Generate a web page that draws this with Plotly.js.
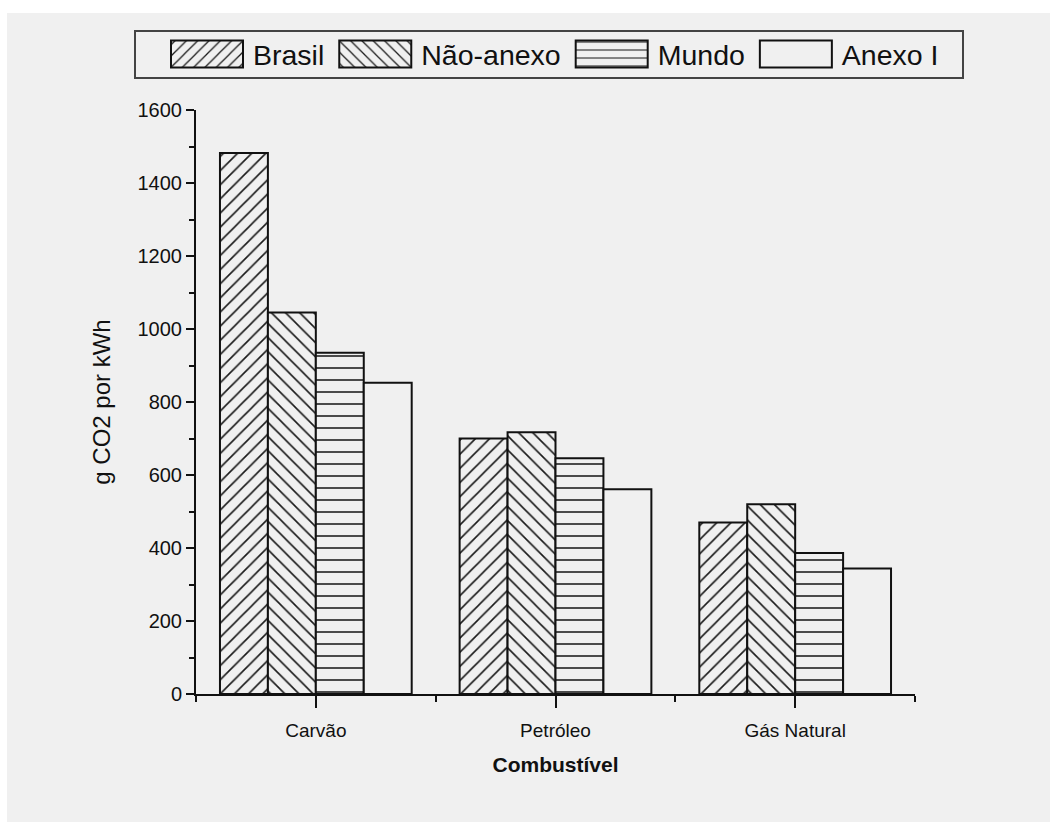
<!DOCTYPE html>
<html><head><meta charset="utf-8">
<script src="https://cdn.plot.ly/plotly-3.0.1.min.js"></script>
<style>html,body{margin:0;padding:0;background:#fff}#chart{width:1050px;height:822px}</style>
</head><body><div id="chart"></div>
<script>
const categories = ['Carvão', 'Petróleo', 'Gás Natural'];
const seriesNames = ['Brasil', 'Não-anexo', 'Mundo', 'Anexo I'];
const brasil = [1482, 700, 470];
const naoAnexo = [1045, 717, 520];
const mundo = [935, 646, 386];
const anexoI = [853, 561, 344];
const yTickVals = [0, 200, 400, 600, 800, 1000, 1200, 1400, 1600];
const xTitle = 'Combustível';
const yTitle = 'g CO2 por kWh';

const seriesValues = [brasil, naoAnexo, mundo, anexoI];
const patternShapes = ['/', '\\', '-', ''];
const patternSizes = [10, 10, 12, 8];
const patternSolid = [0.16, 0.16, 0.13, 0.1];
const xPos = categories.map((c, i) => i);
const BG = '#f0f0f0';
const INK = '#111';

// plot area in pixels
const W = 1050, H = 822, PL = 196, PR = 915, PT = 110, PB = 694;
const px = v => (v - PL) / (PR - PL);
const py = v => (PB - v) / (PB - PT);

const traces = seriesNames.map((name, k) => ({
  type: 'bar',
  name: name,
  x: xPos,
  y: seriesValues[k],
  marker: {
    color: BG,
    line: {color: INK, width: 2},
    pattern: {shape: patternShapes[k], size: patternSizes[k], solidity: patternSolid[k], fgcolor: '#1a1a1a', bgcolor: BG}
  },
  hoverinfo: 'x+y+name'
}));

const layout = {
  width: W, height: H,
  margin: {l: PL, r: W - PR, t: PT, b: H - PB, pad: 0},
  paper_bgcolor: '#ffffff',
  plot_bgcolor: 'rgba(0,0,0,0)',
  font: {family: 'Liberation Sans, Arial, sans-serif', color: INK},
  barmode: 'group', bargap: 0.2, bargroupgap: 0,
  showlegend: true,
  legend: {
    orientation: 'h', x: px(161), xanchor: 'left', y: py(54.5), yanchor: 'middle',
    font: {size: 28.5, color: INK}, itemwidth: 82, bgcolor: 'rgba(0,0,0,0)', borderwidth: 0,
    traceorder: 'normal'
  },
  xaxis: {
    range: [-0.5, 2.5], tickvals: xPos, ticktext: categories,
    showgrid: false, zeroline: false, showline: true, linecolor: INK, linewidth: 2,
    ticks: 'outside', ticklen: 12, tickwidth: 2, tickcolor: INK,
    tickfont: {size: 19, color: INK}, ticklabelstandoff: 6,
    minor: {tick0: 0.5, dtick: 1, ticks: 'outside', ticklen: 6, tickwidth: 2, tickcolor: INK, showgrid: false},
    title: {text: '<b>' + xTitle + '</b>', font: {size: 21, color: INK}, standoff: 18},
    fixedrange: true
  },
  yaxis: {
    range: [0, 1600], tickvals: yTickVals,
    showgrid: false, zeroline: false, showline: true, linecolor: INK, linewidth: 2,
    ticks: 'outside', ticklen: 8, tickwidth: 2, tickcolor: INK,
    tickfont: {size: 20, color: INK}, ticklabelstandoff: 0,
    minor: {tick0: 0, dtick: 100, ticks: 'outside', ticklen: 5, tickwidth: 2, tickcolor: INK, showgrid: false},
    title: {text: yTitle, font: {size: 24, color: INK}, standoff: 20},
    fixedrange: true
  },
  shapes: [
    {type: 'rect', xref: 'paper', yref: 'paper', layer: 'below',
     x0: px(7), x1: px(W), y0: py(H), y1: py(13), fillcolor: BG, line: {width: 0}},
    {type: 'rect', xref: 'paper', yref: 'paper', layer: 'above',
     x0: px(135), x1: px(963), y0: py(78), y1: py(31), fillcolor: 'rgba(0,0,0,0)', line: {color: '#444', width: 2}}
  ]
};

Plotly.newPlot('chart', traces, layout, {displayModeBar: false, staticPlot: true}).then(gd => {
  // widen legend swatches to match the reference's rectangular keys
  document.querySelectorAll('.legend .traces .legendpoints path').forEach(p => {
    p.setAttribute('d', 'M-36,-13.5H36V13.5H-36Z');
  });
});
</script></body></html>
